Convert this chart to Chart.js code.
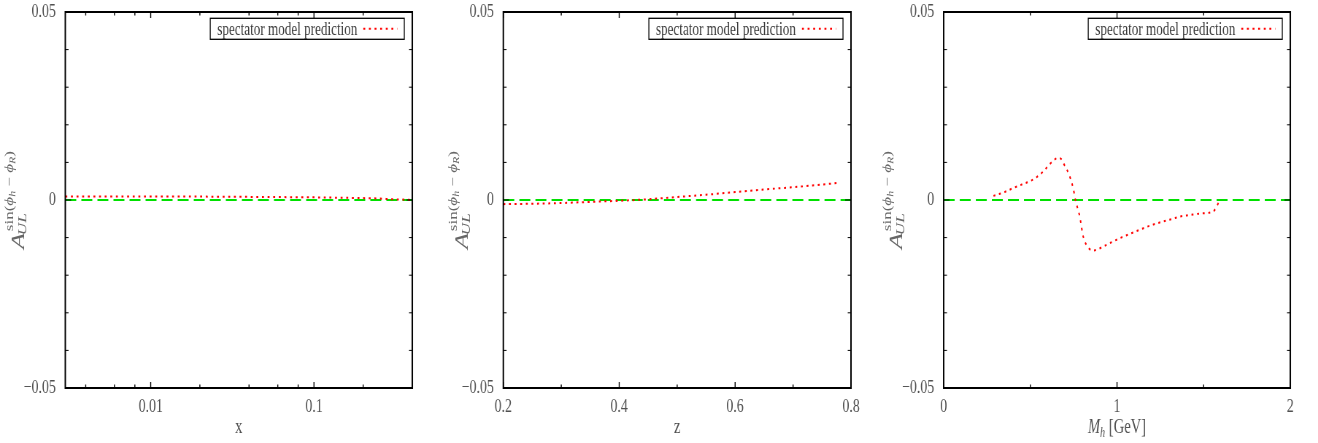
<!DOCTYPE html>
<html>
<head>
<meta charset="utf-8">
<script src="https://cdn.jsdelivr.net/npm/chart.js@4.4.0/dist/chart.umd.min.js"></script>
<style>
  html, body { margin: 0; background: #fff; }
  #wrap { position: relative; width: 1318px; height: 443px; overflow: hidden; }
  #wrap canvas { position: absolute; top: 0; }
</style>
</head>
<body>
<div id="wrap">
  <canvas id="panelX"></canvas>
  <canvas id="panelZ"></canvas>
  <canvas id="panelM"></canvas>
</div>
<script>
// Model curves: asymmetry vs x, z and M_h
const xValues = [0.003, 0.005, 0.01, 0.02, 0.05, 0.1, 0.15, 0.2, 0.25, 0.3, 0.35, 0.4];
const asymX   = [0.0009, 0.0009, 0.0009, 0.0009, 0.0008, 0.0007, 0.0006, 0.0005, 0.0004, 0.0002, 0.0001, 0.0];

const zValues = [0.2, 0.25, 0.3, 0.35, 0.4, 0.45, 0.5, 0.55, 0.6, 0.65, 0.7, 0.75, 0.78];
const asymZ   = [-0.0011, -0.0010, -0.0008, -0.0005, -0.0002, 0.0002, 0.0008, 0.0014, 0.0021, 0.0028, 0.0034, 0.0041, 0.0046];

const mhValues = [0.287, 0.35, 0.402, 0.45, 0.498, 0.54, 0.575, 0.609, 0.638, 0.66,
                  0.68, 0.695, 0.724, 0.749, 0.76, 0.785, 0.805, 0.837, 0.866, 0.923,
                  0.97, 1.019, 1.09, 1.153, 1.21, 1.268, 1.32, 1.364, 1.42, 1.479,
                  1.556, 1.585, 1.594];
const asymMh   = [0.0011, 0.0021, 0.0032, 0.0041, 0.0050, 0.0062, 0.0076, 0.0094, 0.0107, 0.0112,
                  0.0108, 0.0094, 0.0067, 0.0027, 0.0, -0.0044, -0.0097, -0.0128, -0.0134, -0.0123,
                  -0.0112, -0.0101, -0.0087, -0.0075, -0.0065, -0.0057, -0.0050, -0.0044, -0.0040, -0.0036,
                  -0.0030, -0.0008, 0.0];

// Axis ticks
const yTickLabels = [-0.05, 0, 0.05];
const yMinorTicks = [-0.04, -0.03, -0.02, -0.01, 0.01, 0.02, 0.03, 0.04];
const xTickLabels = [0.01, 0.1];
const xMinorTicks = [0.004, 0.006, 0.008, 0.02, 0.04, 0.06, 0.08, 0.2];
const zTickLabels = [0.2, 0.4, 0.6, 0.8];
const zMinorTicks = [0.3, 0.5, 0.7];
const mhTickLabels = [0, 1, 2];
const mhMinorTicks = [0.5, 1.5];

const LEGEND_LABEL = 'spectator model prediction';

const SERIF = '"Liberation Serif", "Times New Roman", serif';
const SQUEEZE = 0.73;          // canvases are drawn wide and shown narrower
const PLOT_TOP = 12, PLOT_BOTTOM = 388, HEIGHT = 443;

function fmtTick(v) {
  if (v === 0) return '0';
  return v < 0 ? '\u2212' + String(-v) : String(v);
}

// Box around the plot with inward ticks on all four sides
const frameTicks = {
  id: 'frameTicks',
  afterDraw(chart, args, opts) {
    const { ctx, chartArea: a, scales } = chart;
    ctx.save();
    ctx.strokeStyle = '#000';
    ctx.lineWidth = 1.4;
    ctx.beginPath();
    const xMarks = opts.xMajor.map(v => [v, 6]).concat(opts.xMinor.map(v => [v, 3.5]));
    for (const [v, len] of xMarks) {
      const px = scales.x.getPixelForValue(v);
      ctx.moveTo(px, a.bottom); ctx.lineTo(px, a.bottom - len);
      ctx.moveTo(px, a.top); ctx.lineTo(px, a.top + len);
    }
    ctx.stroke();
    ctx.lineWidth = 1;
    ctx.beginPath();
    const yMarks = yTickLabels.map(v => [v, 8]).concat(yMinorTicks.map(v => [v, 4.5]));
    for (const [v, len] of yMarks) {
      const py = scales.y.getPixelForValue(v);
      ctx.moveTo(a.left, py); ctx.lineTo(a.left + len, py);
      ctx.moveTo(a.right, py); ctx.lineTo(a.right - len, py);
    }
    ctx.stroke();
    ctx.lineWidth = 2;
    ctx.strokeRect(a.left, a.top, a.right - a.left, a.bottom - a.top);
    ctx.restore();
  }
};

// Key in the top right corner: text first, line sample after it
const boxLegend = {
  id: 'boxLegend',
  afterDraw(chart) {
    const { ctx, chartArea: a } = chart;
    const ds = chart.data.datasets[0];
    ctx.save();
    ctx.font = `18px ${SERIF}`;
    const tw = ctx.measureText(ds.label).width;
    const pad = 9.6, gap = 8.2, sample = 46.6, h = 21;
    const w = pad + tw + gap + sample + pad;
    const x = a.right - 11 - w, y = a.top + 6.3;
    ctx.strokeStyle = '#000';
    ctx.lineWidth = 1.3;
    ctx.strokeRect(x, y, w, h);
    ctx.fillStyle = '#3c3c3c';
    ctx.textBaseline = 'middle';
    ctx.fillText(ds.label, x + pad, y + h / 2 + 1);
    ctx.strokeStyle = ds.borderColor;
    ctx.lineWidth = ds.borderWidth;
    ctx.setLineDash(ds.borderDash);
    ctx.beginPath();
    ctx.moveTo(x + pad + tw + gap, y + h / 2);
    ctx.lineTo(x + pad + tw + gap + sample, y + h / 2);
    ctx.stroke();
    ctx.restore();
  }
};

// A_UL^{sin(phi_h - phi_R)} written upwards left of the plot
const yTitle = {
  id: 'yTitle',
  afterDraw(chart, args, opts) {
    const { ctx, chartArea: a } = chart;
    const fA = `italic 26px ${SERIF}`;
    const fSup = `17px ${SERIF}`, fSupI = `italic 17px ${SERIF}`, fSS = `italic 12px ${SERIF}`;
    const sup = [['sin(', fSup, 0], ['\u03d5', fSupI, 0], ['h', fSS, 3], [' \u2212 ', fSup, 0],
                 ['\u03d5', fSupI, 0], ['R', fSS, 3], [')', fSup, 0]];
    ctx.save();
    ctx.fillStyle = '#666';
    ctx.textAlign = 'left';
    ctx.textBaseline = 'alphabetic';
    ctx.translate(opts.x, (a.top + a.bottom) / 2);
    ctx.rotate(-Math.PI / 2);
    const width = (t, f) => { ctx.font = f; return ctx.measureText(t).width; };
    const wA = width('A', fA);
    const wSup = sup.reduce((s, p) => s + width(p[0], p[1]), 0);
    const wSub = width('UL', fSupI);
    const total = wA + 2 + Math.max(wSup, wSub);
    const x0 = -total / 2;
    ctx.font = fA;
    ctx.fillText('A', x0, 0);
    let sx = x0 + wA + 2;
    for (const [t, f, dy] of sup) {
      ctx.font = f;
      ctx.fillText(t, sx, -15 + dy);
      sx += ctx.measureText(t).width;
    }
    ctx.font = fSupI;
    ctx.fillText('UL', x0 + wA - 2, 3);
    ctx.restore();
  }
};

// Horizontal axis title, made of roman/italic/subscript pieces
const xTitle = {
  id: 'xTitle',
  afterDraw(chart, args, opts) {
    const { ctx, chartArea: a } = chart;
    ctx.save();
    ctx.fillStyle = '#505050';
    ctx.textBaseline = 'alphabetic';
    const parts = opts.parts.map(p => ({ text: p.text, font: p.font || `20px ${SERIF}`, dy: p.dy || 0 }));
    let total = 0;
    for (const p of parts) { ctx.font = p.font; p.w = ctx.measureText(p.text).width; total += p.w; }
    let x = (a.left + a.right) / 2 - total / 2;
    for (const p of parts) {
      ctx.font = p.font;
      ctx.fillText(p.text, x, 433 + p.dy);
      x += p.w;
    }
    ctx.restore();
  }
};

const panels = [
  {
    canvas: 'panelX', cssLeft: 0, cssWidth: 440, plotLeft: 65.3, plotRight: 412.3, yTitleX: 24,
    xScale: { type: 'logarithmic', min: 0.003, max: 0.4 },
    xs: xValues, ys: asymX, xLabels: xTickLabels, xMinor: xMinorTicks,
    title: [{ text: 'x' }]
  },
  {
    canvas: 'panelZ', cssLeft: 440, cssWidth: 438, plotLeft: 63.3, plotRight: 411, yTitleX: 28,
    xScale: { type: 'linear', min: 0.2, max: 0.8 },
    xs: zValues, ys: asymZ, xLabels: zTickLabels, xMinor: zMinorTicks,
    title: [{ text: 'z' }]
  },
  {
    canvas: 'panelM', cssLeft: 878, cssWidth: 440, plotLeft: 65.7, plotRight: 412.3, yTitleX: 24,
    xScale: { type: 'linear', min: 0, max: 2 },
    xs: mhValues, ys: asymMh, xLabels: mhTickLabels, xMinor: mhMinorTicks,
    title: [
      { text: 'M', font: `italic 20px ${SERIF}` },
      { text: 'h', font: `italic 14px ${SERIF}`, dy: 4 },
      { text: ' [GeV]' }
    ]
  }
];

function makePanel(p) {
  const canvas = document.getElementById(p.canvas);
  const width = Math.round(p.cssWidth / SQUEEZE);
  const k = width / p.cssWidth;       // internal px per screen px, horizontally
  canvas.width = width;
  canvas.height = HEIGHT;
  canvas.style.left = p.cssLeft + 'px';
  canvas.style.width = p.cssWidth + 'px';
  canvas.style.height = HEIGHT + 'px';

  const curve = p.xs.map((x, i) => ({ x, y: p.ys[i] }));
  const zeroLine = [{ x: p.xScale.min, y: 0 }, { x: p.xScale.max, y: 0 }];
  const tickFont = { family: SERIF, size: 19 };

  return new Chart(canvas, {
    type: 'line',
    data: {
      datasets: [
        {
          label: LEGEND_LABEL,
          data: curve,
          borderColor: '#ff0000',
          borderWidth: 2,
          borderDash: [2.7, 5],
          borderCapStyle: 'butt',
          cubicInterpolationMode: 'monotone',
          pointRadius: 0,
          fill: false
        },
        {
          label: '',
          data: zeroLine,
          borderColor: '#00e000',
          borderWidth: 2,
          borderDash: [15, 7],
          pointRadius: 0,
          fill: false
        }
      ]
    },
    options: {
      responsive: false,
      animation: false,
      devicePixelRatio: 1,
      layout: { padding: { left: 0, top: PLOT_TOP, right: width - p.plotRight * k, bottom: 0 } },
      plugins: {
        legend: { display: false },
        tooltip: { enabled: false },
        frameTicks: { xMajor: p.xLabels, xMinor: p.xMinor },
        yTitle: { x: p.yTitleX * k },
        xTitle: { parts: p.title }
      },
      scales: {
        x: {
          ...p.xScale,
          position: 'bottom',
          grid: { display: false, drawTicks: false },
          border: { display: false },
          afterBuildTicks: s => { s.ticks = p.xLabels.map(v => ({ value: v })); },
          afterFit: s => {
            s.height = HEIGHT - PLOT_BOTTOM;
            s.paddingLeft = 0; s.paddingRight = 0;
          },
          ticks: {
            autoSkip: false, maxRotation: 0, padding: 8,
            font: tickFont, color: '#505050',
            callback: v => fmtTick(v)
          }
        },
        y: {
          type: 'linear', min: -0.05, max: 0.05,
          position: 'left',
          grid: { display: false, drawTicks: false },
          border: { display: false },
          afterBuildTicks: s => { s.ticks = yTickLabels.map(v => ({ value: v })); },
          afterFit: s => {
            s.width = p.plotLeft * k;
            s.paddingTop = 0; s.paddingBottom = 0;
          },
          ticks: {
            autoSkip: false, padding: 13,
            font: tickFont, color: '#505050',
            callback: v => fmtTick(v)
          }
        }
      }
    },
    plugins: [frameTicks, boxLegend, yTitle, xTitle]
  });
}

panels.forEach(makePanel);
</script>
</body>
</html>
